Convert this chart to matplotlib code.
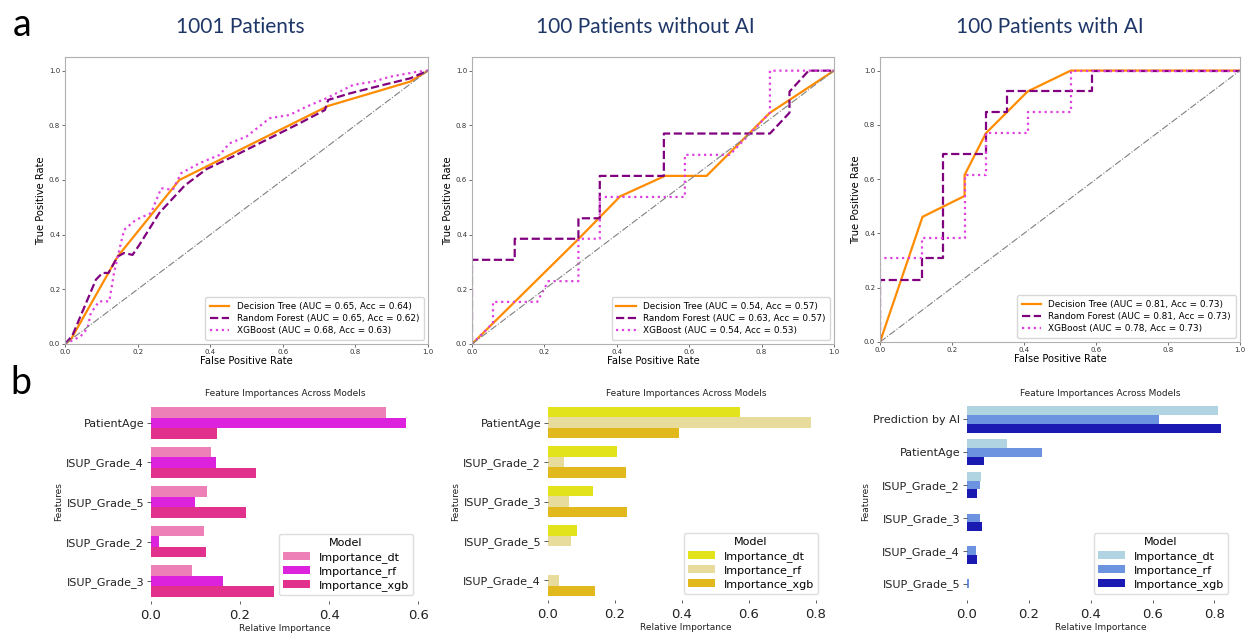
import numpy as np
import matplotlib.pyplot as plt

W, H = 1245, 633

# ---------------- ROC data ----------------
titles = ["1001 Patients", "100 Patients without AI", "100 Patients with AI"]
model_names = ["Decision Tree", "Random Forest", "XGBoost"]

auc_acc = [
    [(0.65, 0.64), (0.65, 0.62), (0.68, 0.63)],
    [(0.54, 0.57), (0.63, 0.57), (0.54, 0.53)],
    [(0.81, 0.73), (0.81, 0.73), (0.78, 0.73)],
]

# 1001 patients
fpr_dt_1 = [0, 0.016, 0.145, 0.315, 0.725, 0.951, 1]
tpr_dt_1 = [0, 0.016, 0.32, 0.60, 0.871, 0.96, 1]
fpr_rf_1 = [0, 0.02, 0.085, 0.103, 0.12, 0.145, 0.163, 0.186, 0.205, 0.26, 0.33,
            0.39, 0.463, 0.555, 0.647, 0.716, 0.725, 0.785, 0.877, 0.951, 1]
tpr_rf_1 = [0, 0.03, 0.235, 0.26, 0.26, 0.32, 0.333, 0.326, 0.363, 0.48, 0.58,
            0.64, 0.686, 0.747, 0.808, 0.856, 0.893, 0.917, 0.948, 0.972, 1]
fpr_xgb_1 = [0, 0.043, 0.062, 0.071, 0.094, 0.122, 0.135, 0.154, 0.163, 0.195, 0.237,
             0.265, 0.297, 0.32, 0.37, 0.426, 0.453, 0.5, 0.564, 0.619, 0.665, 0.72,
             0.794, 0.85, 0.896, 0.97, 1]
tpr_xgb_1 = [0, 0.028, 0.058, 0.113, 0.156, 0.156, 0.26, 0.369, 0.418, 0.454, 0.479,
             0.57, 0.564, 0.625, 0.661, 0.692, 0.734, 0.759, 0.826, 0.838, 0.868, 0.899,
             0.948, 0.96, 0.978, 0.996, 1]

# 100 patients without AI
fpr_dt_2 = [0, 0.294, 0.35, 0.409, 0.533, 0.648, 0.823, 1]
tpr_dt_2 = [0, 0.384, 0.46, 0.54, 0.615, 0.615, 0.846, 1]
fpr_rf_2 = [0, 0, 0.118, 0.118, 0.294, 0.294, 0.353, 0.353, 0.53, 0.53, 0.823,
            0.877, 0.877, 0.93, 1]
tpr_rf_2 = [0, 0.308, 0.308, 0.385, 0.385, 0.46, 0.46, 0.615, 0.615, 0.77, 0.77,
            0.846, 0.923, 1, 1]
fpr_xgb_2 = [0, 0.058, 0.058, 0.18, 0.211, 0.294, 0.294, 0.353, 0.353, 0.588, 0.588,
             0.712, 0.823, 0.823, 1]
tpr_xgb_2 = [0, 0.077, 0.154, 0.154, 0.23, 0.23, 0.385, 0.385, 0.538, 0.538, 0.692,
             0.692, 0.846, 1, 1]

# 100 patients with AI
fpr_dt_3 = [0, 0.118, 0.235, 0.235, 0.294, 0.41, 0.53, 1]
tpr_dt_3 = [0, 0.461, 0.538, 0.615, 0.769, 0.923, 1, 1]
fpr_rf_3 = [0, 0, 0.118, 0.118, 0.176, 0.176, 0.294, 0.294, 0.353, 0.353, 0.588, 0.588, 1]
tpr_rf_3 = [0, 0.23, 0.23, 0.308, 0.308, 0.692, 0.692, 0.846, 0.846, 0.923, 0.923, 1, 1]
fpr_xgb_3 = [0, 0, 0.118, 0.118, 0.235, 0.235, 0.294, 0.294, 0.412, 0.412, 0.53, 0.53, 1]
tpr_xgb_3 = [0, 0.308, 0.308, 0.385, 0.385, 0.615, 0.615, 0.769, 0.769, 0.846, 0.846, 1, 1]

roc_curves = [
    [(fpr_dt_1, tpr_dt_1), (fpr_rf_1, tpr_rf_1), (fpr_xgb_1, tpr_xgb_1)],
    [(fpr_dt_2, tpr_dt_2), (fpr_rf_2, tpr_rf_2), (fpr_xgb_2, tpr_xgb_2)],
    [(fpr_dt_3, tpr_dt_3), (fpr_rf_3, tpr_rf_3), (fpr_xgb_3, tpr_xgb_3)],
]

# ---------------- feature importance data ----------------
importance_names = ["Importance_dt", "Importance_rf", "Importance_xgb"]

features_1 = ["PatientAge", "ISUP_Grade_4", "ISUP_Grade_5", "ISUP_Grade_2", "ISUP_Grade_3"]
imp_dt_1 = [0.527, 0.134, 0.125, 0.119, 0.092]
imp_rf_1 = [0.573, 0.146, 0.099, 0.019, 0.161]
imp_xgb_1 = [0.149, 0.236, 0.214, 0.123, 0.276]

features_2 = ["PatientAge", "ISUP_Grade_2", "ISUP_Grade_3", "ISUP_Grade_5", "ISUP_Grade_4"]
imp_dt_2 = [0.574, 0.207, 0.133, 0.086, 0.0]
imp_rf_2 = [0.785, 0.047, 0.063, 0.070, 0.033]
imp_xgb_2 = [0.392, 0.232, 0.236, 0.0, 0.140]

features_3 = ["Prediction by AI", "PatientAge", "ISUP_Grade_2", "ISUP_Grade_3",
              "ISUP_Grade_4", "ISUP_Grade_5"]
imp_dt_3 = [0.811, 0.129, 0.046, 0.0, 0.0, 0.0]
imp_rf_3 = [0.621, 0.243, 0.041, 0.041, 0.030, 0.008]
imp_xgb_3 = [0.822, 0.056, 0.032, 0.048, 0.032, 0.0]

bar_sets = [
    (features_1, [imp_dt_1, imp_rf_1, imp_xgb_1], ["#ee80b8", "#dd22dd", "#e2318c"]),
    (features_2, [imp_dt_2, imp_rf_2, imp_xgb_2], ["#e3e31c", "#e7dc9c", "#e2b91c"]),
    (features_3, [imp_dt_3, imp_rf_3, imp_xgb_3], ["#b0d4e2", "#6b93e0", "#1a1ab3"]),
]


def px_rect(x0, y0, x1, y1):
    # pixel box (top-left origin) -> figure fraction rect
    return [x0 / W, 1 - y1 / H, (x1 - x0) / W, (y1 - y0) / H]


fig = plt.figure(figsize=(W / 100, H / 100), dpi=100)

roc_boxes = [(65, 57, 428, 344), (472, 57, 834, 344), (880, 57, 1240, 342)]
title_x = [240, 645, 1050]
line_styles = [("#ff8c00", "-"), ("#800080", "--"), ("#e040e0", ":")]

for i in range(3):
    ax = fig.add_axes(px_rect(*roc_boxes[i]))
    for j in range(3):
        fpr, tpr = roc_curves[i][j]
        col, ls = line_styles[j]
        auc, acc = auc_acc[i][j]
        ax.plot(fpr, tpr, color=col, ls=ls, lw=1.6,
                label=f"{model_names[j]} (AUC = {auc:.2f}, Acc = {acc:.2f})")
    ax.plot([0, 1], [0, 1], color="gray", ls="-.", lw=0.8)
    ax.set_xlim(0, 1)
    ax.set_ylim(0, 1.05)
    ax.set_xlabel("False Positive Rate", fontsize=7.2, labelpad=1)
    ax.set_ylabel("True Positive Rate", fontsize=7.2, labelpad=2)
    ax.tick_params(labelsize=5, length=2, width=0.5, pad=1.5, colors="#333333")
    for s in ax.spines.values():
        s.set_color("#b0b0b0")
        s.set_linewidth(0.8)
    leg = ax.legend(loc="lower right", fontsize=6.4, handlelength=2.2,
                    borderpad=0.5, labelspacing=0.35, framealpha=1)
    leg.get_frame().set_edgecolor("#d8d8d8")
    fig.text(title_x[i] / W, 1 - 27 / H, titles[i], ha="center", va="center",
             fontsize=15, color="#1f3768", family="Lato")

bar_boxes = [(151, 403, 419, 601), (548, 403, 824, 600), (967, 403, 1234, 600)]
label_x = [59, 455, 865]

for i in range(3):
    feats, vals, cols = bar_sets[i]
    ax = fig.add_axes(px_rect(*bar_boxes[i]))
    y = np.arange(len(feats))
    h = 0.8 / 3
    for j in range(3):
        ax.barh(y - 0.4 + h * (j + 0.5), vals[j], height=h, color=cols[j],
                label=importance_names[j], linewidth=0)
    ax.set_yticks(y)
    ax.set_yticklabels(feats)
    ax.set_ylim(len(feats) - 0.5, -0.5)
    for s in ax.spines.values():
        s.set_visible(False)
    ax.tick_params(axis="y", labelsize=8, length=3, width=0.6, pad=2, colors="#444444")
    ax.tick_params(axis="x", labelsize=9.5, length=2, width=0.6, pad=4, colors="#444444")
    for t in ax.get_yticklabels() + ax.get_xticklabels():
        t.set_color("#222222")
    ax.set_title("Feature Importances Across Models", fontsize=6.5, pad=5, color="#222222")
    ax.set_xlabel("Relative Importance", fontsize=6.5, labelpad=1, color="#222222")
    ax.set_ylabel("Features", fontsize=6.5, labelpad=2, color="#222222")
    leg = ax.legend(title="Model", loc="lower right", fontsize=8, title_fontsize=8,
                    handlelength=2.4, labelspacing=0.3, borderpad=0.4, framealpha=1)
    leg.get_frame().set_edgecolor("#dddddd")

fig.text(13 / W, 1 - 25 / H, "a", fontsize=27, ha="left", va="center", family="Lato")
fig.text(10 / W, 1 - 383 / H, "b", fontsize=27, ha="left", va="center", family="Lato")

fig.savefig("out.png", dpi=100)
